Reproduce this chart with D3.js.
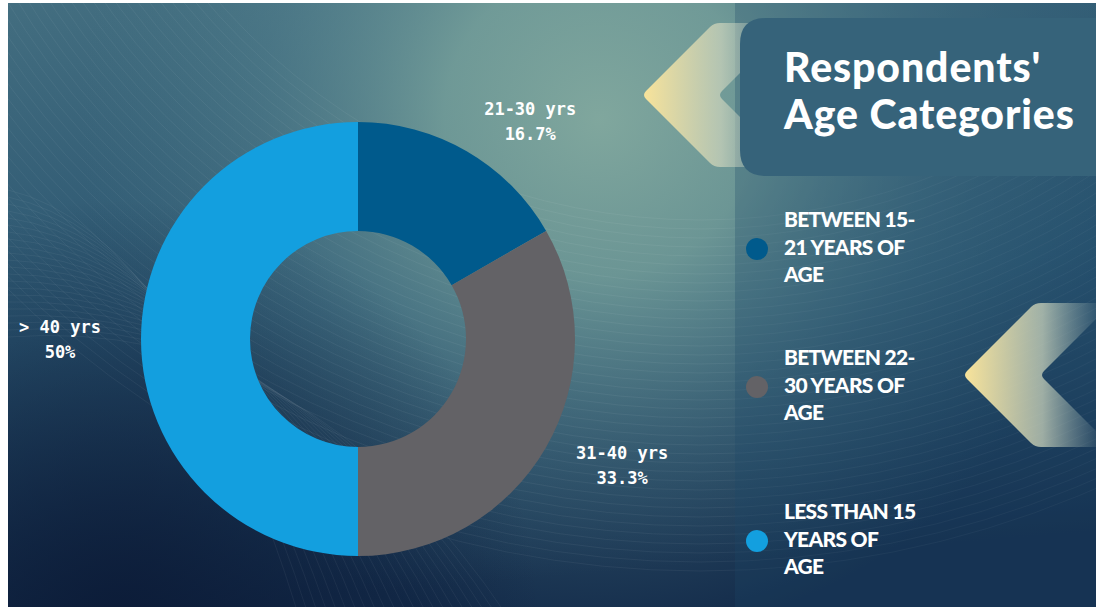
<html>
<head>
<script src="https://cdn.jsdelivr.net/npm/d3@7"></script>
<style>
  body { margin: 0; background: #fff; }
  svg { display: block; }
</style>
</head>
<body>
<script>
// chart values
var categories = ["21-30 yrs", "31-40 yrs", "> 40 yrs"];
var shares = [16.7, 33.3, 50];
var shareLabels = ["16.7%", "33.3%", "50%"];
var sliceColors = ["#005a8c", "#636266", "#139fdf"];
var titleLines = ["Respondents'", "Age Categories"];
var legendLines = [
  ["BETWEEN 15-", "21 YEARS OF", "AGE"],
  ["BETWEEN 22-", "30 YEARS OF", "AGE"],
  ["LESS THAN 15", "YEARS OF", "AGE"]
];

var W = 1096, H = 609;
var svg = d3.select("body").append("svg").attr("width", W).attr("height", H);
var defs = svg.append("defs");

// background gradients
var base = defs.append("linearGradient").attr("id", "base")
  .attr("x1", 0).attr("y1", 0).attr("x2", 0.15).attr("y2", 1);
base.append("stop").attr("offset", 0).attr("stop-color", "#436e80");
base.append("stop").attr("offset", 0.55).attr("stop-color", "#2a5470");
base.append("stop").attr("offset", 1).attr("stop-color", "#142c4b");

var glow = defs.append("radialGradient").attr("id", "glow")
  .attr("gradientUnits", "userSpaceOnUse").attr("cx", 600).attr("cy", 120).attr("r", 520);
glow.append("stop").attr("offset", 0).attr("stop-color", "#8db3a4").attr("stop-opacity", 0.85);
glow.append("stop").attr("offset", 0.3).attr("stop-color", "#80aaa0").attr("stop-opacity", 0.75);
glow.append("stop").attr("offset", 0.65).attr("stop-color", "#5f8d95").attr("stop-opacity", 0.35);
glow.append("stop").attr("offset", 1).attr("stop-color", "#4a7a88").attr("stop-opacity", 0);

var dark = defs.append("radialGradient").attr("id", "dark")
  .attr("gradientUnits", "userSpaceOnUse").attr("cx", 120).attr("cy", 620).attr("r", 420);
dark.append("stop").attr("offset", 0).attr("stop-color", "#0b1a36").attr("stop-opacity", 0.9);
dark.append("stop").attr("offset", 1).attr("stop-color", "#0b1a36").attr("stop-opacity", 0);

var chev = defs.append("linearGradient").attr("id", "chev")
  .attr("x1", 0).attr("y1", 0).attr("x2", 1).attr("y2", 0);
chev.append("stop").attr("offset", 0).attr("stop-color", "#f8e39a").attr("stop-opacity", 1);
chev.append("stop").attr("offset", 0.55).attr("stop-color", "#c9d2bb").attr("stop-opacity", 0.75);
chev.append("stop").attr("offset", 1).attr("stop-color", "#9fb8b8").attr("stop-opacity", 0);

defs.append("clipPath").attr("id", "frame")
  .append("rect").attr("x", 8).attr("y", 3).attr("width", W - 8).attr("height", H - 5);

var bg = svg.append("g").attr("clip-path", "url(#frame)");
bg.append("rect").attr("width", W).attr("height", H).attr("fill", "url(#base)");
bg.append("rect").attr("width", W).attr("height", H).attr("fill", "url(#glow)");
bg.append("rect").attr("width", W).attr("height", H).attr("fill", "url(#dark)");

// faint swoosh lines
var swoosh = bg.append("g").attr("fill", "none").attr("stroke", "#ffffff");
for (var i = 0; i < 40; i++) {
  swoosh.append("circle").attr("cx", 700).attr("cy", -420)
    .attr("r", 640 + i * 9).attr("stroke-opacity", 0.05);
}
for (var j = 0; j < 22; j++) {
  swoosh.append("path")
    .attr("d", "M8," + (190 + j * 7) + " Q" + (180 + j * 6) + "," + (230 + j * 4) + " " + (300 + j * 10) + ",620")
    .attr("stroke-opacity", 0.05);
}

// right panel
bg.append("rect").attr("x", 735).attr("y", 0).attr("width", W - 735).attr("height", H)
  .attr("fill", "#1d4868").attr("opacity", 0.28);

// chevrons
function chevron(x, y, h, t, w) {
  var m = y + h / 2;
  return "M" + (x + 4) + "," + (m - 4) + " L" + (x + h / 2 - 4) + "," + (y + 4) +
    " Q" + (x + h / 2) + "," + y + " " + (x + h / 2 + 6) + "," + y +
    " L" + (x + w) + "," + y + " L" + (x + w) + "," + (y + 6) +
    " L" + (x + t + h / 2 - 6) + "," + (y + 6) +
    " L" + (x + t + 4) + "," + (m - 4) + " Q" + (x + t) + "," + m + " " + (x + t + 4) + "," + (m + 4) +
    " L" + (x + t + h / 2 - 6) + "," + (y + h - 6) +
    " L" + (x + w) + "," + (y + h - 6) + " L" + (x + w) + "," + (y + h) +
    " L" + (x + h / 2 + 6) + "," + (y + h) + " Q" + (x + h / 2) + "," + (y + h) + " " + (x + h / 2 - 4) + "," + (y + h - 4) +
    " L" + (x + 4) + "," + (m + 4) + " Q" + x + "," + m + " " + (x + 4) + "," + (m - 4) + " Z";
}
bg.append("path").attr("d", chevron(642, 23, 144, 76, 130)).attr("fill", "url(#chev)");
bg.append("path").attr("d", chevron(963, 303, 144, 77, 133)).attr("fill", "url(#chev)");

// title box
bg.append("path")
  .attr("d", "M" + W + ",18 L766,18 Q740,18 740,44 L740,150 Q740,176 766,176 L" + W + ",176 Z")
  .attr("fill", "#36637a");

svg.append("g").selectAll("text").data(titleLines).enter().append("text")
  .attr("x", 784).attr("y", function(d, i) { return 82 + i * 47; })
  .attr("fill", "#ffffff")
  .style("font-family", "Lato").style("font-weight", 900).style("font-size", "41px")
  .style("letter-spacing", "0.9px")
  .text(function(d) { return d; });

// donut
var cx = 358, cy = 339, outerR = 217, innerR = 108;
var pie = d3.pie().sort(null).value(function(d) { return d; });
var arc = d3.arc().innerRadius(innerR).outerRadius(outerR);
var arcs = pie(shares);

var chart = svg.append("g").attr("transform", "translate(" + cx + "," + cy + ")");
chart.selectAll("path").data(arcs).enter().append("path")
  .attr("d", arc)
  .attr("fill", function(d, i) { return sliceColors[i]; });

// outside labels
var labelArc = d3.arc().innerRadius(252).outerRadius(252);
var boxW = 92;
var lab = chart.selectAll(".lab").data(arcs).enter().append("g")
  .attr("transform", function(d) {
    var p = labelArc.centroid(d);
    var a = (d.startAngle + d.endAngle) / 2;
    var sx = Math.sin(a) >= 0 ? 1 : -1;
    return "translate(" + (p[0] + sx * boxW / 2) + "," + p[1] + ")";
  })
  .attr("fill", "#ffffff")
  .attr("text-anchor", "middle")
  .style("font-family", "DejaVu Sans Mono").style("font-weight", "bold").style("font-size", "17px");
lab.append("text").attr("y", -6).text(function(d, i) { return categories[i]; });
lab.append("text").attr("y", 19).text(function(d, i) { return shareLabels[i]; });

// legend
var legendY = [249, 387, 541];
var legend = svg.append("g").selectAll("g").data(legendLines).enter().append("g")
  .attr("transform", function(d, i) { return "translate(757," + legendY[i] + ")"; });
legend.append("circle").attr("r", 11).attr("fill", function(d, i) { return sliceColors[i]; });
legend.each(function(lines) {
  d3.select(this).selectAll("text").data(lines).enter().append("text")
    .attr("x", 27).attr("y", function(d, k) { return -22 + k * 27.5; })
    .attr("fill", "#ffffff")
    .style("font-family", "Lato").style("font-weight", 900).style("font-size", "21px")
    .style("letter-spacing", "-0.7px")
    .text(function(d) { return d; });
});
</script>
</body>
</html>
